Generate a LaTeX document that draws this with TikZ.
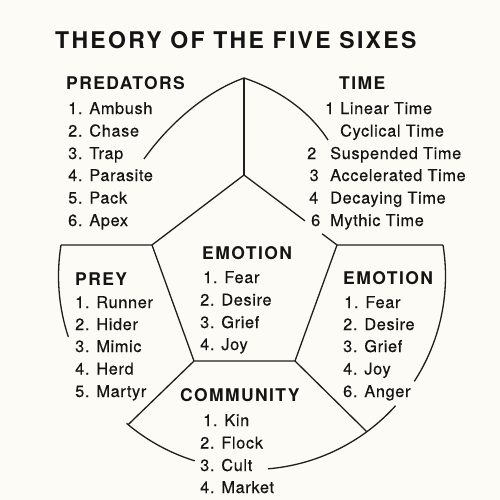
\documentclass[tikz,border=0pt]{standalone}
\usepackage{fontspec}
\setmainfont{TeX Gyre Heros}
\newfontfamily\titlefont[LetterSpace=10]{TeX Gyre Heros}
\newfontfamily\headfont[LetterSpace=8]{TeX Gyre Heros}
\newfontfamily\itemfont[LetterSpace=4,FakeBold=0.35]{TeX Gyre Heros}
\usetikzlibrary{calc}
\definecolor{bg}{HTML}{FCFBF5}
\definecolor{ink}{HTML}{141414}
\definecolor{linec}{HTML}{1E1E1E}
\tikzset{
  titletext/.style={anchor=base west,inner sep=0pt,text=ink,font=\titlefont\bfseries\fontsize{23}{24}\selectfont},
  headtext/.style={anchor=base west,inner sep=0pt,text=ink,font=\headfont\bfseries\fontsize{17.5}{20}\selectfont},
  itemtext/.style={anchor=base west,inner sep=0pt,text=ink,font=\itemfont\fontsize{16.3}{18}\selectfont},
  rim/.style={draw=linec,line width=1.3pt},
}
\begin{document}
\begin{tikzpicture}[x=1pt,y=1pt]
\fill[bg] (0,0) rectangle (500,-500);
\useasboundingbox (0,0) rectangle (500,-500);

% key points
\coordinate (apex) at (244,-78);
\coordinate (ptop) at (244,-175);
\coordinate (pul) at (152,-245);
\coordinate (pur) at (337,-245);
\coordinate (pll) at (194,-361);
\coordinate (plr) at (295,-361);
\coordinate (cc) at (252,-276);
\coordinate (cl) at ($(cc)+(170.8:193.5)$);
\coordinate (cr) at ($(cc)+(9.2:193.5)$);
\coordinate (sl) at ($(cc)+(230.2:193.5)$);
\coordinate (sr) at ($(cc)+(306.4:193.5)$);
\coordinate (tl) at (144,-159);
\coordinate (tr) at (328,-140);

% pentagon
\draw[rim] (pul) -- (pll) -- (plr) -- (pur);
\draw[rim] (ptop) -- (pul);
\draw[rim] (ptop) -- ($(ptop)!0.655!(pur)$);
\draw[rim] ($(ptop)!0.84!(pur)$) -- (pur);
% vertical and horizontals
\draw[rim] (apex) -- (ptop);
\draw[rim] (cl) -- (pul);
\draw[rim] (pur) -- (cr);
% spokes
\draw[rim] (pll) -- (sl);
\draw[rim] (plr) -- (sr);
% top arch
\draw[rim] (apex) .. controls (205,-92) and (168,-125) .. (tl);
\draw[rim] (apex) .. controls (280,-90) and (310,-112) .. (tr);
% outer circle segments
\draw[rim] ($(cc)+(170.8:193.5)$) arc[start angle=170.8,end angle=198.3,radius=193.5];
\draw[rim] ($(cc)+(229.6:193.5)$) arc[start angle=229.6,end angle=252.8,radius=193.5];
\draw[rim] ($(cc)+(274.7:193.5)$) arc[start angle=274.7,end angle=317.9,radius=193.5];
\draw[rim] ($(cc)+(327:193.5)$) arc[start angle=327,end angle=369.2,radius=193.5];

% title
\node[titletext] (title) at (55,-49) {THEORY OF THE FIVE SIXES};

% predators
\node[headtext] (hpred) at (66,-90) {PREDATORS};
\node[itemtext] (pr1) at (68,-114) {1. Ambush};
\node[itemtext] (pr2) at (68,-136.5) {2. Chase};
\node[itemtext] (pr3) at (68,-159) {3. Trap};
\node[itemtext] (pr4) at (68,-181) {4. Parasite};
\node[itemtext] (pr5) at (68,-203.5) {5. Pack};
\node[itemtext] (pr6) at (68,-226) {6. Apex};

% time
\node[headtext] (htime) at (339,-90) {TIME};
\node[itemtext] (tn1) at (325,-114) {1};
\node[itemtext] (ti1) at (340,-114) {Linear Time};
\node[itemtext] (ti2) at (340,-136.5) {Cyclical Time};
\node[itemtext] (tn3) at (307,-159) {2};
\node[itemtext] (ti3) at (330,-159) {Suspended Time};
\node[itemtext] (tn4) at (309.5,-181) {3};
\node[itemtext] (ti4) at (330,-181) {Accelerated Time};
\node[itemtext] (tn5) at (309,-203.5) {4};
\node[itemtext] (ti5) at (330,-203.5) {Decaying Time};
\node[itemtext] (tn6) at (311,-226) {6};
\node[itemtext] (ti6) at (330,-226) {Mythic Time};

% centre emotion
\node[headtext] (hemo) at (202,-259) {EMOTION};
\node[itemtext] (e1) at (203,-283) {1. Fear};
\node[itemtext] (e2) at (200,-305.5) {2. Desire};
\node[itemtext] (e3) at (200,-328) {3. Grief};
\node[itemtext] (e4) at (200,-350) {4. Joy};

% prey
\node[headtext] (hprey) at (75,-285) {PREY};
\node[itemtext] (y1) at (75,-308) {1. Runner};
\node[itemtext] (y2) at (75,-330) {2. Hider};
\node[itemtext] (y3) at (75,-352) {3. Mimic};
\node[itemtext] (y4) at (75,-374.5) {4. Herd};
\node[itemtext] (y5) at (75,-397) {5. Martyr};

% right emotion
\node[headtext] (hemor) at (343,-284) {EMOTION};
\node[itemtext] (r1) at (344,-308) {1. Fear};
\node[itemtext] (r2) at (343,-330) {2. Desire};
\node[itemtext] (r3) at (343,-352) {3. Grief};
\node[itemtext] (r4) at (343,-374.5) {4. Joy};
\node[itemtext] (r5) at (343,-397) {6. Anger};

% community
\node[headtext] (hcom) at (180,-401) {COMMUNITY};
\node[itemtext] (c1) at (203,-426) {1. Kin};
\node[itemtext] (c2) at (200,-448.5) {2. Flock};
\node[itemtext] (c3) at (200,-471) {3. Cult};
\node[itemtext] (c4) at (200,-493) {4. Market};
\end{tikzpicture}
\end{document}
